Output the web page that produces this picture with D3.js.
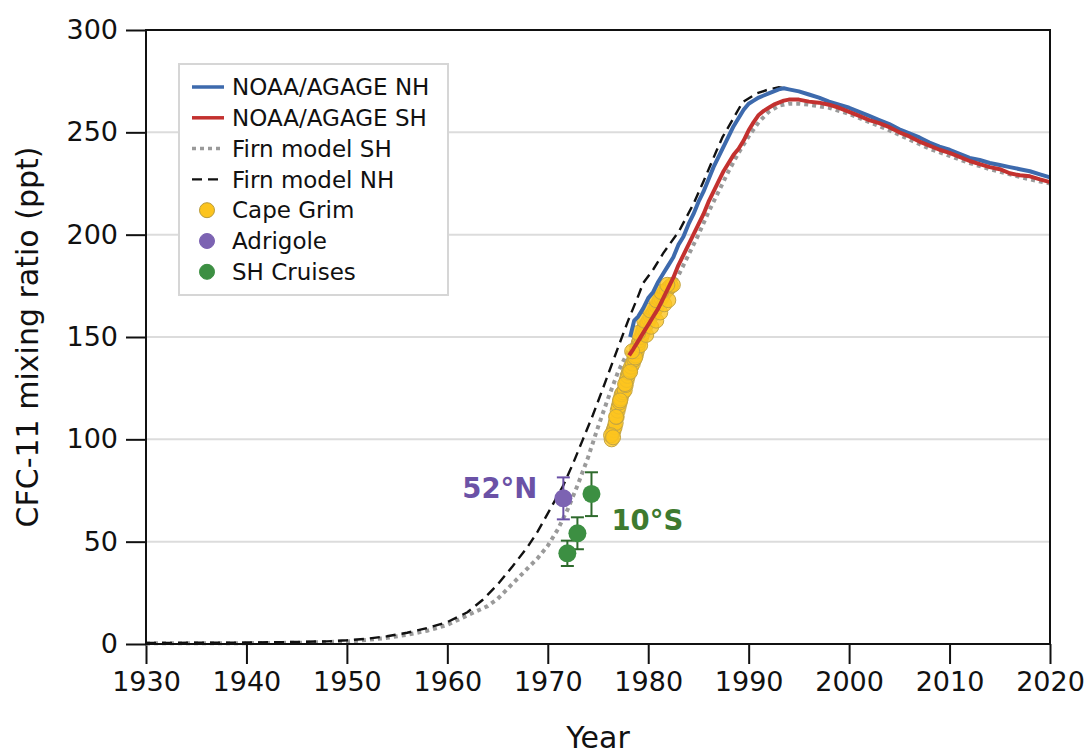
<!DOCTYPE html>
<html>
<head>
<meta charset="utf-8">
<script src="https://cdn.jsdelivr.net/npm/d3@7"></script>
<style>
  html, body { margin: 0; padding: 0; background: #fff; }
  svg { display: block; font-family: "DejaVu Sans", Verdana, sans-serif; }
</style>
</head>
<body>
<svg id="chart" width="1088" height="754"></svg>
<script>
// CFC-11 records: [year, ppt]
const noaaNH = [
  [1978.2,150],[1978.6,158],[1979,160],[1979.5,164],[1980,169],[1980.5,172],[1981,177],[1981.5,181],
  [1982,185],[1982.5,189],[1983,195],[1983.5,199],[1984,205],[1984.5,210],[1985,216],[1985.5,221],
  [1986,227],[1986.5,233],[1987,238],[1987.5,243],[1988,248],[1988.5,253],[1989,257],[1989.5,261],
  [1990,264],[1990.5,265.5],[1991,267],[1991.5,268],[1992,269],[1992.5,270],[1993,271],[1993.5,271.5],
  [1994,271],[1994.5,270.5],[1995,270],[1996,268.5],[1997,267],[1998,265],[1999,263.5],[2000,262],
  [2001,260],[2002,258],[2003,256],[2004,254],[2005,251.5],[2006,249.5],[2007,247.5],[2008,245],
  [2009,243],[2010,241.5],[2011,239.5],[2012,237.5],[2013,236.5],[2014,235],[2015,234],[2016,233],
  [2017,232],[2018,231],[2019,229.5],[2020,228]
];
const noaaSH = [
  [1978.1,141],[1978.5,144],[1979,148],[1979.5,152],[1980,156],[1980.5,160],[1981,164],[1981.5,169],
  [1982,174],[1982.5,179],[1983,185],[1983.5,190],[1984,195],[1984.5,200],[1985,205],[1985.5,210],
  [1986,216],[1986.5,221],[1987,226],[1987.5,231],[1988,235],[1988.5,239],[1989,242],[1989.5,246],
  [1990,251],[1990.5,255],[1991,258.5],[1991.5,260.5],[1992,262],[1992.5,263.5],[1993,264.5],[1993.5,265.5],
  [1994,266],[1995,266],[1996,265],[1997,264.5],[1998,263.5],[1999,262],[2000,260],[2001,258],
  [2002,256],[2003,254.5],[2004,252.5],[2005,250],[2006,248],[2007,245.5],[2008,243.5],[2009,241.5],
  [2010,240],[2011,238],[2012,236],[2013,234.5],[2014,233],[2015,232],[2016,230],[2017,229],
  [2018,228.5],[2019,227],[2020,225.7]
];
const firnSH = [
  [1930,0.3],[1940,0.4],[1945,0.6],[1950,1.2],[1952,2],[1954,3],[1956,4.5],[1958,6.5],[1960,9.3],
  [1962,14],[1964,18.5],[1965,22],[1966,27],[1967,32],[1968,37],[1969,42],[1970,48],[1971,56],
  [1972,66],[1973,78],[1974,91],[1975,106],[1976,120],[1977,133],[1978,143],[1979,151],[1980,158],
  [1981,165],[1982,172],[1983,180],[1984,190],[1985,200],[1986,211],[1987,221],[1988,231],[1989,240],
  [1990,248],[1991,255],[1992,260],[1993,263],[1994,264],[1995,264],[1996,263.5],[1998,262],[2000,259],
  [2002,255],[2004,251],[2006,246.5],[2008,242],[2010,238.5],[2012,235],[2014,232],[2016,229.5],
  [2018,227],[2020,225]
];
const firnNH = [
  [1930,0.5],[1935,0.6],[1940,0.7],[1945,1.0],[1948,1.3],[1950,1.8],[1952,2.6],[1954,3.8],[1956,5.5],
  [1958,7.8],[1960,10.7],[1962,15.5],[1963.5,21.5],[1965,29],[1966.5,38],[1968,47.5],[1969,55],
  [1970.2,65.5],[1971.5,77],[1972.5,88],[1973.5,100],[1974.5,112],[1975.5,125],[1976.9,143.6],
  [1978,158],[1979,170],[1979.5,176.4],[1980.5,183],[1981.5,191],[1983.1,202],[1984.5,215],
  [1985.5,226],[1986.8,241],[1987.4,247.7],[1988.5,257],[1989.4,264.8],[1990.8,269],[1992,271],
  [1993,272],[1994,271]
];
const capeGrim = [
  [1976.36,100],[1976.45,103],[1976.56,104.5],[1976.66,106],[1976.76,108],[1976.86,111],[1976.96,114],
  [1977.06,116],[1977.16,118],[1977.26,120],[1977.36,122],[1977.5,123],[1977.66,124],[1977.76,126.5],
  [1977.86,129],[1977.96,131],[1978.06,132.5],[1978.16,134],[1978.3,135.5],[1978.46,137],[1978.6,139],
  [1978.76,141],[1978.86,143],[1978.95,145],[1979.05,147],[1979.15,148.5],[1979.3,150],[1979.45,152],
  [1979.55,153.5],[1979.65,155],[1979.8,156],[1979.95,157],[1980.1,158.5],[1980.25,160],[1980.4,161],
  [1980.55,162],[1980.7,163.5],[1980.85,165],[1981.0,166.5],[1981.15,168],[1981.3,169],[1981.45,170.5],
  [1981.65,172],[1981.85,173],[1982.05,174],[1982.25,175],[1982.45,175.5],
  [1976.3,102],[1976.5,101],[1976.8,111],[1977.2,119],[1977.7,127],[1978.2,133],[1978.7,140],
  [1979.2,146],[1979.8,151],[1980.3,155],[1980.8,158],[1981.2,162],[1981.6,166],[1982.0,168],
  [1978.4,143],[1979.0,152],[1979.6,158],[1980.2,163],[1980.8,168],[1981.3,172],[1981.9,175.5]
];
// [year, ppt, low, high]
const adrigole = [[1971.55,71.2,60.9,81.4]];
const shCruises = [
  [1971.95,44.3,38.1,50.5],
  [1972.95,54.1,46.3,61.9],
  [1974.35,73.3,62.5,83.9]
];
const xTicks = [1930,1940,1950,1960,1970,1980,1990,2000,2010,2020];
const yTicks = [0,50,100,150,200,250,300];
const gridValues = [50,100,150,200,250];
const legendItems = [
  {label:"NOAA/AGAGE NH", kind:"line", color:"#3d6aad", dash:null, width:3.5},
  {label:"NOAA/AGAGE SH", kind:"line", color:"#c3312f", dash:null, width:3.5},
  {label:"Firn model SH", kind:"line", color:"#9a9a9a", dash:"4,4", width:3.5},
  {label:"Firn model NH", kind:"line", color:"#111", dash:"10,6", width:2.2},
  {label:"Cape Grim", kind:"dot", color:"#fcc41e", stroke:"#b89a3a"},
  {label:"Adrigole", kind:"dot", color:"#7c63b2", stroke:"#7c63b2"},
  {label:"SH Cruises", kind:"dot", color:"#3c8f42", stroke:"#3c8f42"}
];

const svg = d3.select("#chart");
const plotL = 146, plotR = 1050, plotT = 30, plotB = 644;

const x = d3.scaleLinear().domain([1930, 2020]).range([plotL, plotR]);
const y = d3.scaleLinear().domain([0, 300]).range([plotB, plotT]);

// gridlines
svg.append("g").selectAll("line").data(gridValues).join("line")
  .attr("x1", plotL).attr("x2", plotR)
  .attr("y1", d => y(d)).attr("y2", d => y(d))
  .attr("stroke", "#dcdcdc").attr("stroke-width", 2);

// axes
const xAxis = svg.append("g").attr("transform", `translate(0,${plotB})`)
  .call(d3.axisBottom(x).tickValues(xTicks).tickFormat(d3.format("d")).tickSize(20).tickPadding(8));
const yAxis = svg.append("g").attr("transform", `translate(${plotL},0)`)
  .call(d3.axisLeft(y).tickValues(yTicks).tickSize(20).tickPadding(8));
[xAxis, yAxis].forEach(g => {
  g.select(".domain").remove();
  g.selectAll("line").attr("stroke", "#111").attr("stroke-width", 2);
  g.selectAll("text").attr("font-size", 27).attr("fill", "#111")
    .attr("font-family", '"DejaVu Sans", Verdana, sans-serif');
});

const line = d3.line().x(d => x(d[0])).y(d => y(d[1]));

// firn models
svg.append("path").datum(firnSH).attr("d", line)
  .attr("fill", "none").attr("stroke", "#9a9a9a").attr("stroke-width", 4)
  .attr("stroke-dasharray", "4,4");
svg.append("path").datum(firnNH).attr("d", line)
  .attr("fill", "none").attr("stroke", "#111").attr("stroke-width", 2.4)
  .attr("stroke-dasharray", "10,6");

// Cape Grim flasks
svg.append("g").selectAll("circle").data(capeGrim).join("circle")
  .attr("cx", d => x(d[0])).attr("cy", d => y(d[1])).attr("r", 7.5)
  .attr("fill", "#fcc41e").attr("fill-opacity", 0.8)
  .attr("stroke", "#c4a544").attr("stroke-width", 1);

// NOAA/AGAGE records
svg.append("path").datum(noaaNH).attr("d", line)
  .attr("fill", "none").attr("stroke", "#3d6aad").attr("stroke-width", 4)
  .attr("stroke-linejoin", "round");
svg.append("path").datum(noaaSH).attr("d", line)
  .attr("fill", "none").attr("stroke", "#c3312f").attr("stroke-width", 4)
  .attr("stroke-linejoin", "round");

// discrete samples with error bars
function errorPoints(data, barColor, fill) {
  const g = svg.append("g");
  const cap = 6.5;
  data.forEach(d => {
    g.append("line").attr("x1", x(d[0])).attr("x2", x(d[0]))
      .attr("y1", y(d[2])).attr("y2", y(d[3])).attr("stroke", barColor).attr("stroke-width", 2);
    [d[2], d[3]].forEach(v => g.append("line")
      .attr("x1", x(d[0]) - cap).attr("x2", x(d[0]) + cap)
      .attr("y1", y(v)).attr("y2", y(v)).attr("stroke", barColor).attr("stroke-width", 2));
  });
  g.selectAll("circle").data(data).join("circle")
    .attr("cx", d => x(d[0])).attr("cy", d => y(d[1])).attr("r", 9)
    .attr("fill", fill);
}
errorPoints(adrigole, "#6a50a6", "#7c63b2");
errorPoints(shCruises, "#2e6a2c", "#3c8f42");

// annotations
svg.append("text").attr("x", x(1971.55) - 26).attr("y", y(71.2))
  .attr("text-anchor", "end").attr("font-size", 27.5).attr("font-weight", "bold")
  .attr("fill", "#6b52a6").text("52°N");
svg.append("text").attr("x", x(1974.35) + 20).attr("y", y(62.5) + 14)
  .attr("text-anchor", "start").attr("font-size", 27.5).attr("font-weight", "bold")
  .attr("fill", "#3e7a2f").text("10°S");

// frame
svg.append("rect").attr("x", plotL).attr("y", plotT)
  .attr("width", plotR - plotL).attr("height", plotB - plotT)
  .attr("fill", "none").attr("stroke", "#111").attr("stroke-width", 2);

// axis titles
svg.append("text").attr("x", (plotL + plotR) / 2).attr("y", 748)
  .attr("text-anchor", "middle").attr("font-size", 30).attr("fill", "#111").text("Year");
svg.append("text").attr("transform", `translate(38,${(plotT + plotB) / 2}) rotate(-90)`)
  .attr("text-anchor", "middle").attr("font-size", 30).attr("fill", "#111")
  .text("CFC-11 mixing ratio (ppt)");

// legend
const lg = svg.append("g").attr("transform", "translate(179,64)");
lg.append("rect").attr("width", 269).attr("height", 231)
  .attr("fill", "#fff").attr("stroke", "#d6d6d6").attr("stroke-width", 2);
legendItems.forEach((it, i) => {
  const cy = 23 + i * 30.8;
  if (it.kind === "line") {
    lg.append("line").attr("x1", 13).attr("x2", 45).attr("y1", cy).attr("y2", cy)
      .attr("stroke", it.color).attr("stroke-width", it.width)
      .attr("stroke-dasharray", it.dash);
  } else {
    lg.append("circle").attr("cx", 28).attr("cy", cy).attr("r", 7.5)
      .attr("fill", it.color).attr("stroke", it.stroke).attr("stroke-width", 1);
  }
  lg.append("text").attr("x", 53).attr("y", cy).attr("dy", "0.36em")
    .attr("font-size", 23).attr("fill", "#111").text(it.label);
});
</script>
</body>
</html>
